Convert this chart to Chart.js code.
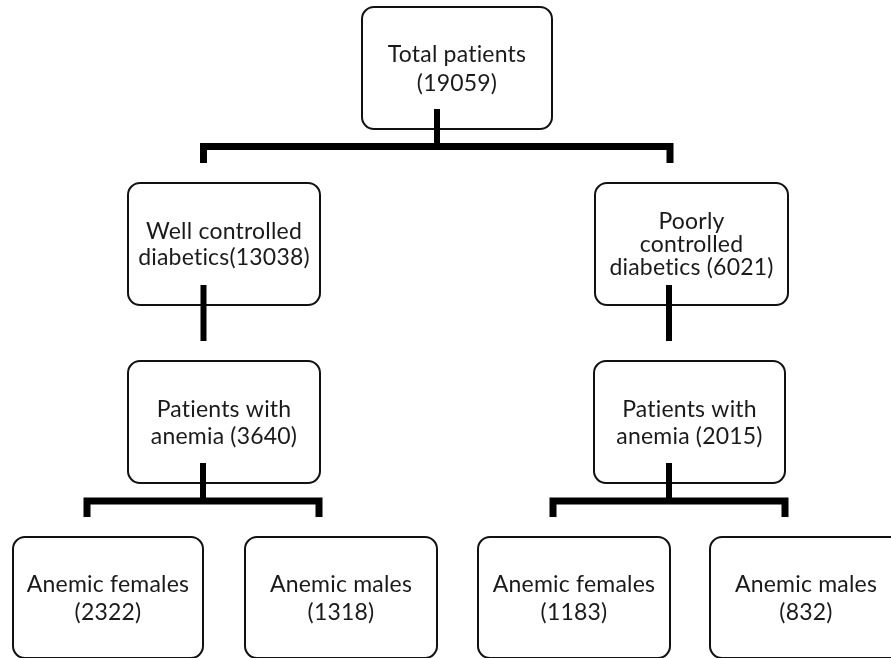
<!DOCTYPE html>
<html>
<head>
<meta charset="utf-8">
<script src="https://cdn.jsdelivr.net/npm/chart.js@4.4.1/dist/chart.umd.min.js"></script>
<style>
  html, body { margin: 0; padding: 0; background: #fff; }
  #flow { display: block; }
</style>
</head>
<body>
<canvas id="flow" width="891" height="658"></canvas>
<script>
// Flowchart data: patient counts and the text of each box ({n} = count)
const nodeCounts = [19059, 13038, 6021, 3640, 2015, 2322, 1318, 1183, 832];
const nodeText = [
    ['Total patients', '({n})'],
    ['Well controlled', 'diabetics({n})'],
    ['Poorly', 'controlled', 'diabetics ({n})'],
    ['Patients with', 'anemia ({n})'],
    ['Patients with', 'anemia ({n})'],
    ['Anemic females', '({n})'],
    ['Anemic males', '({n})'],
    ['Anemic females', '({n})'],
    ['Anemic males', '({n})']
];
const nodeLevel = [0, 1, 1, 2, 2, 3, 3, 3, 3];

// Layout (axis units = pixels of the 891x658 page)
const rowTop = [7, 183, 361, 537];
const rowHeight = [122, 122, 122, 121];
const boxLeft = [362, 128, 595, 128, 594, 13, 245, 478, 710];
const boxWidth = [190, 192, 193, 192, 191, 190, 192, 192, 192];
const lineGap = [29, 26, 23, 27, 27, 28, 28, 28, 28];
const stemInset = 20;   // stems start this far inside the parent box
const tickGap = 20;     // space between tick end and child box

// connectors: parent box, stem x, bar y (if branching), tick x positions
const links = [
    { from: 0, stemX: 437, barY: 146.5, ticks: [203.5, 670] },
    { from: 1, stemX: 203.5, ticks: [203.5] },
    { from: 2, stemX: 669, ticks: [669] },
    { from: 3, stemX: 203, barY: 501, ticks: [87, 319] },
    { from: 4, stemX: 669, barY: 501, ticks: [553, 785] }
];

const lineStyle = {
    type: 'scatter',
    showLine: true,
    borderColor: '#000',
    pointRadius: 0,
    tension: 0,
    borderCapStyle: 'butt',
    borderJoinStyle: 'miter'
};

const datasets = [];
links.forEach(l => {
    const lvl = nodeLevel[l.from];
    const stemTop = rowTop[lvl] + rowHeight[lvl] - stemInset;
    const tickEnd = rowTop[lvl + 1] - tickGap;
    if (l.barY === undefined) {
        datasets.push(Object.assign({}, lineStyle, {
            borderWidth: 6,
            data: [{ x: l.stemX, y: stemTop }, { x: l.stemX, y: tickEnd }]
        }));
        return;
    }
    datasets.push(Object.assign({}, lineStyle, {
        borderWidth: 6,
        data: [{ x: l.stemX, y: stemTop }, { x: l.stemX, y: l.barY }]
    }));
    const first = l.ticks[0], last = l.ticks[l.ticks.length - 1];
    datasets.push(Object.assign({}, lineStyle, {
        borderWidth: 7,
        data: [
            { x: first, y: tickEnd },
            { x: first, y: l.barY },
            { x: last, y: l.barY },
            { x: last, y: tickEnd }
        ]
    }));
});

// rounded boxes with their labels
const boxPlugin = {
    id: 'flowBoxes',
    beforeDatasetsDraw(chart) {
        const { ctx, scales: { x, y } } = chart;
        ctx.save();
        nodeText.forEach((lines, i) => {
            const lvl = nodeLevel[i];
            const left = x.getPixelForValue(boxLeft[i]);
            const right = x.getPixelForValue(boxLeft[i] + boxWidth[i]);
            const top = y.getPixelForValue(rowTop[lvl]);
            const bottom = y.getPixelForValue(rowTop[lvl] + rowHeight[lvl]);
            ctx.beginPath();
            ctx.roundRect(left, top, right - left, bottom - top, 12);
            ctx.fillStyle = '#fff';
            ctx.fill();
            ctx.lineWidth = 2;
            ctx.strokeStyle = '#111';
            ctx.stroke();

            ctx.fillStyle = '#1a1a1a';
            ctx.font = '23px Lato';
            ctx.letterSpacing = '0.2px';   // also keeps "ti" from ligating
            ctx.textAlign = 'center';
            ctx.textBaseline = 'middle';
            const cx = (left + right) / 2;
            const cy = (top + bottom) / 2 + 1;
            const start = cy - (lines.length - 1) * lineGap[i] / 2;
            lines.forEach((t, k) => {
                ctx.fillText(t.replace('{n}', nodeCounts[i]), cx, start + k * lineGap[i]);
            });
        });
        ctx.restore();
    }
};

new Chart(document.getElementById('flow'), {
    type: 'scatter',
    data: { datasets: datasets },
    options: {
        responsive: false,
        animation: false,
        layout: { padding: 0 },
        scales: {
            x: { type: 'linear', min: 0, max: 891, display: false },
            y: { type: 'linear', min: 0, max: 658, reverse: true, display: false }
        },
        plugins: { legend: { display: false }, tooltip: { enabled: false } }
    },
    plugins: [boxPlugin]
});
</script>
</body>
</html>
